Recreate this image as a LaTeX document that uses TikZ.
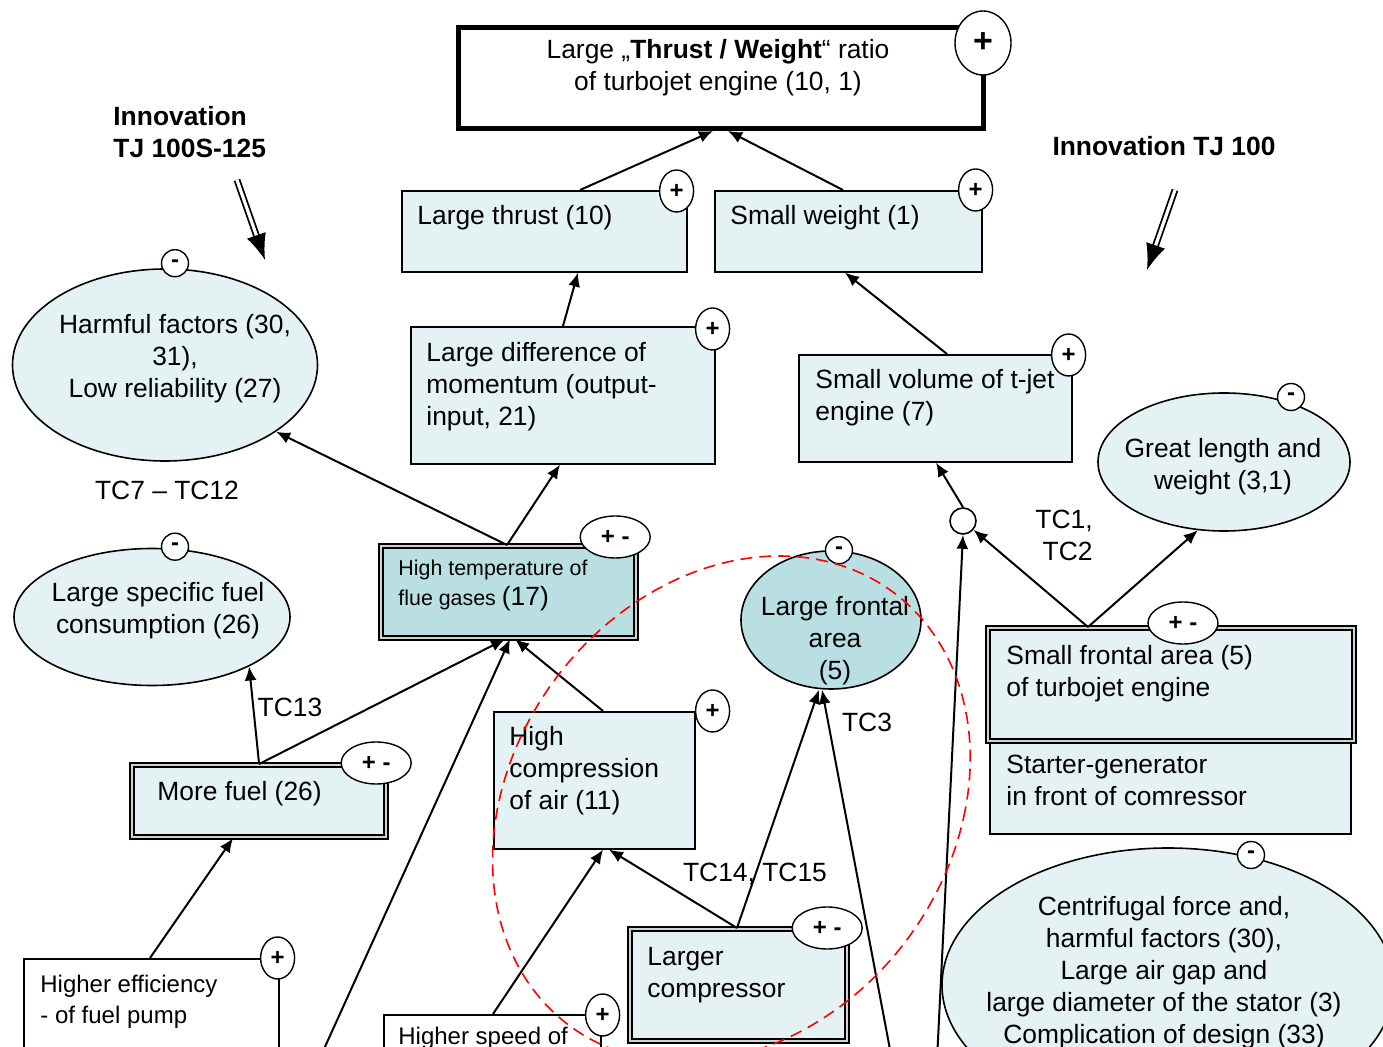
\documentclass[tikz,border=0pt]{standalone}
\usepackage{fontspec}
\setmainfont{Liberation Sans}
\usetikzlibrary{arrows.meta,calc,shapes.geometric}
\definecolor{lightc}{RGB}{228,242,244}
\definecolor{darkc}{RGB}{185,223,227}
\begin{document}
\begin{tikzpicture}[x=0.5pt,y=-0.5pt,
  txt/.style={font=\fontsize{13.2}{16}\selectfont, inner sep=0pt, align=left},
  ctxt/.style={font=\fontsize{13.2}{16}\selectfont, inner sep=0pt, align=center},
  btxt/.style={font=\fontsize{13.2}{16}\selectfont\bfseries, inner sep=0pt, align=left},
  lbox/.style={draw, line width=0.8pt, fill=lightc, rectangle, inner sep=0pt, anchor=north west},
  wbox/.style={draw, line width=0.8pt, fill=white, rectangle, inner sep=0pt, anchor=north west},
  dbox/.style={draw, line width=1.1pt, double=gray!35, double distance=1.1pt, fill=lightc, rectangle, inner sep=0pt, anchor=north west},
  oval/.style={draw, line width=0.8pt, fill=lightc, ellipse, inner sep=0pt},
  plusm/.style={draw, line width=0.7pt, fill=white, ellipse, inner sep=0pt, minimum width=17pt, minimum height=21pt, font=\fontsize{12}{12}\selectfont\bfseries},
  pmm/.style={plusm, minimum width=35pt, minimum height=21pt},
  minm/.style={plusm, minimum width=13.5pt, minimum height=13.5pt},
  arr/.style={line width=1pt, -{Latex[length=7pt,width=6pt]}},
  dblarr/.style={line width=0.9pt, double=white, double distance=1.6pt, -{Latex[length=13pt,width=10pt]}},
]
\useasboundingbox (0,0) rectangle (1383,1047);
\clip (0,0) rectangle (1383,1047);

% ---------- top box ----------
\node[wbox, line width=2.5pt, minimum width=262.5pt, minimum height=50.5pt] (top) at (456,25) {};
\node[ctxt] (topT) at (718,68) {Large „\textbf{Thrust / Weight}“ ratio\\of turbojet engine (10, 1)};

% ---------- innovation labels ----------
\node[btxt, anchor=north west] (inn1) at (113,106) {Innovation\\TJ 100S-125};
\node[btxt] (inn2) at (1164,146) {Innovation TJ 100};
\coordinate (a1s) at (237,180);
\coordinate (a1e) at (265,260);
\coordinate (a2s) at (1175,190);
\coordinate (a2e) at (1147,270);
\draw[dblarr] (a1s) -- (a1e);
\draw[dblarr] (a2s) -- (a2e);

% ---------- boxes ----------
\node[lbox, minimum width=142.5pt, minimum height=40.5pt] (thrust) at (401,190) {};
\node[txt, anchor=north west] (thrustT) at (417,205) {Large thrust (10)};
\node[lbox, minimum width=133.5pt, minimum height=40.5pt] (weight) at (714,190) {};
\node[txt, anchor=north west] (weightT) at (730,205) {Small weight (1)};
\node[lbox, minimum width=152pt, minimum height=68.5pt] (diff) at (410,326) {};
\node[txt, anchor=north west] (diffT) at (426,342) {Large difference of\\momentum (output-\\input, 21)};
\node[lbox, minimum width=136.5pt, minimum height=53.5pt] (vol) at (798,354) {};
\node[txt, anchor=north west] (volT) at (815,369) {Small volume of t-jet\\engine (7)};

\node[dbox, fill=darkc, minimum width=127.5pt, minimum height=46pt] (temp) at (380,545) {};
\node[txt, anchor=north west, font=\fontsize{10.7}{15}\selectfont] (tempT) at (398,560) {High temperature of\\flue gases {\fontsize{13.2}{15}\selectfont(17)}};

\node[lbox, minimum width=180.5pt, minimum height=46.5pt] (starter) at (989,740) {};
\node[txt, anchor=north west] (starterT) at (1006,755) {Starter-generator\\in front of comressor};
\node[dbox, minimum width=183pt, minimum height=56.5pt] (sfa) at (987,627) {};
\node[txt, anchor=north west] (sfaT) at (1006,645) {Small frontal area (5)\\of turbojet engine};

\node[dbox, minimum width=127pt, minimum height=36pt] (fuel) at (131,764) {};
\node[txt, anchor=north west] (fuelT) at (157,781) {More fuel (26)};

\node[lbox, minimum width=100.5pt, minimum height=68.5pt] (comp) at (493,711) {};
\node[txt, anchor=north west] (compT) at (509,726) {High\\compression\\of air (11)};

\node[dbox, minimum width=108.5pt, minimum height=56pt] (lcomp) at (629,928) {};
\node[txt, anchor=north west] (lcompT) at (647,947) {Larger\\compressor};

\node[wbox, minimum width=127.5pt, minimum height=60pt] (eff) at (23,958) {};
\node[txt, anchor=north west, font=\fontsize{12}{15.5}\selectfont] (effT) at (40,975) {Higher efficiency\\- of fuel pump};

\node[wbox, minimum width=108.5pt, minimum height=40pt] (speed) at (383,1014) {};
\node[txt, anchor=north west, font=\fontsize{12}{15.5}\selectfont] (speedT) at (398,1027) {Higher speed of};

% ---------- ellipses ----------
\node[oval, minimum width=152.5pt, minimum height=96pt] (harm) at (165,365) {};
\node[ctxt] (harmT) at (175,359) {Harmful factors (30,\\31),\\Low reliability (27)};
\node[oval, minimum width=138pt, minimum height=68.5pt] (spec) at (152,617) {};
\node[ctxt] (specT) at (158,611) {Large specific fuel\\consumption (26)};
\node[oval, minimum width=126pt, minimum height=69pt] (great) at (1224,462) {};
\node[ctxt] (greatT) at (1223,467) {Great length and\\weight (3,1)};
\node[oval, fill=darkc, minimum width=90pt, minimum height=69pt] (front) at (831,620) {};
\node[ctxt] (frontT) at (835,641) {Large frontal\\area\\(5)};
\node[oval, minimum width=226pt, minimum height=137pt] (cent) at (1168,985) {};
\node[ctxt] (centT) at (1164,973) {Centrifugal force and,\\harmful factors (30),\\Large air gap and\\large diameter of the stator (3)\\Complication of design (33)};

\node[draw, circle, line width=0.8pt, fill=white, minimum size=13pt, inner sep=0pt] (junc) at (963,521) {};

% ---------- labels ----------
\node[txt] (tc712) at (167,490) {TC7 – TC12};
\node[txt, align=right] (tc12) at (1064,535) {TC1,\\TC2};
\node[txt] (tc3) at (867,722) {TC3};
\node[txt] (tc1415) at (755,874) {TC14, TC15};
\node[txt] (tc13) at (290,707) {TC13};

% ---------- connectors ----------
\draw[arr] ($(thrust.north west)+(179,0)$) -- ($(top.south)+(-8,0)$);
\draw[arr] ($(weight.north west)+(129,0)$) -- ($(top.south)+(7,0)$);
\draw[arr] ($(diff.north west)+(153,0)$) -- ($(thrust.south west)+(177,0)$);
\draw[arr] ($(vol.north west)+(149,0)$) -- ($(weight.south west)+(131,0)$);
\draw[arr] (junc.north) -- ($(vol.south west)+(138,0)$);
\draw[arr] ($(temp.north west)+(127,0)$) -- ($(diff.south west)+(150,0)$);
\draw[arr] ($(temp.north west)+(127,0)$) -- (harm.-31);
\draw[arr] (fuel.north) -- (spec.-27);
\draw[arr] (fuel.north) -- ($(temp.south west)+(125,0)$);
\draw[arr] ($(comp.north west)+(110,0)$) -- ($(temp.south west)+(135,0)$);
\coordinate (b1) at (319,1060);
\draw[arr] (b1) -- ($(temp.south west)+(130,0)$);
\draw[arr] ($(eff.north west)+(127,0)$) -- ($(fuel.south west)+(102,0)$);
\draw[arr] ($(speed.north west)+(110,0)$) -- ($(comp.south west)+(110,0)$);
\draw[arr] ($(lcomp.north west)+(108,0)$) -- ($(comp.south west)+(116,0)$);
\draw[arr] ($(lcomp.north west)+(108,0)$) -- ($(front.south)+(-12,0)$);
\coordinate (b2) at (892,1060);
\draw[arr] (b2) -- ($(front.south)+(-9,0)$);
\coordinate (b3) at (937,1060);
\draw[arr] (b3) -- (junc.south);
\draw[arr] ($(sfa.north west)+(101,0)$) -- (junc.-40);
\draw[arr] ($(sfa.north west)+(101,0)$) -- (great.-111);

% ---------- markers ----------
\node[plusm, minimum width=28pt, minimum height=32pt, font=\fontsize{17}{17}\selectfont\bfseries] (topP) at ($(top.north east)+(-3,18)$) {+};
\node[plusm] (thrustP) at ($(thrust.north east)+(-11,1)$) {+};
\node[plusm] (weightP) at ($(weight.north east)+(-7,0)$) {+};
\node[plusm] (diffP) at ($(diff.north east)+(-3,3)$) {+};
\node[plusm] (volP) at ($(vol.north east)+(-4,1)$) {+};
\node[pmm] (tempP) at ($(temp.north east)+(-22,-8)$) {+ -};
\node[pmm] (sfaP) at ($(sfa.north west)+(196,-4)$) {+ -};
\node[pmm] (fuelP) at ($(fuel.north east)+(-11,-1)$) {+ -};
\node[plusm] (compP) at ($(comp.north east)+(17,0)$) {+};
\node[pmm] (lcompP) at ($(lcomp.north east)+(-21,0)$) {+ -};
\node[plusm] (effP) at ($(eff.north east)+(-2,0)$) {+};
\node[plusm] (speedP) at ($(speed.north east)+(1,1)$) {+};
\node[minm] (harmM) at ($(harm.north)+(10,-5)$) {-};
\node[minm] (specM) at ($(spec.north)+(23,-1)$) {-};
\node[minm] (greatM) at ($(great.center)+(67,-65)$) {-};
\node[minm] (frontM) at ($(front.north)+(8,0)$) {-};
\node[minm] (centM) at ($(cent.center)+(83,-130)$) {-};

% ---------- red dashed region (slanted ellipse) ----------
\draw[red, line width=0.8pt, dash pattern=on 6pt off 3.5pt]
  plot[domain=0:360, samples=121, smooth] ({731.4+234*cos(\x)-48*sin(\x)}, {809+253*sin(\x)});
\end{tikzpicture}
\end{document}
